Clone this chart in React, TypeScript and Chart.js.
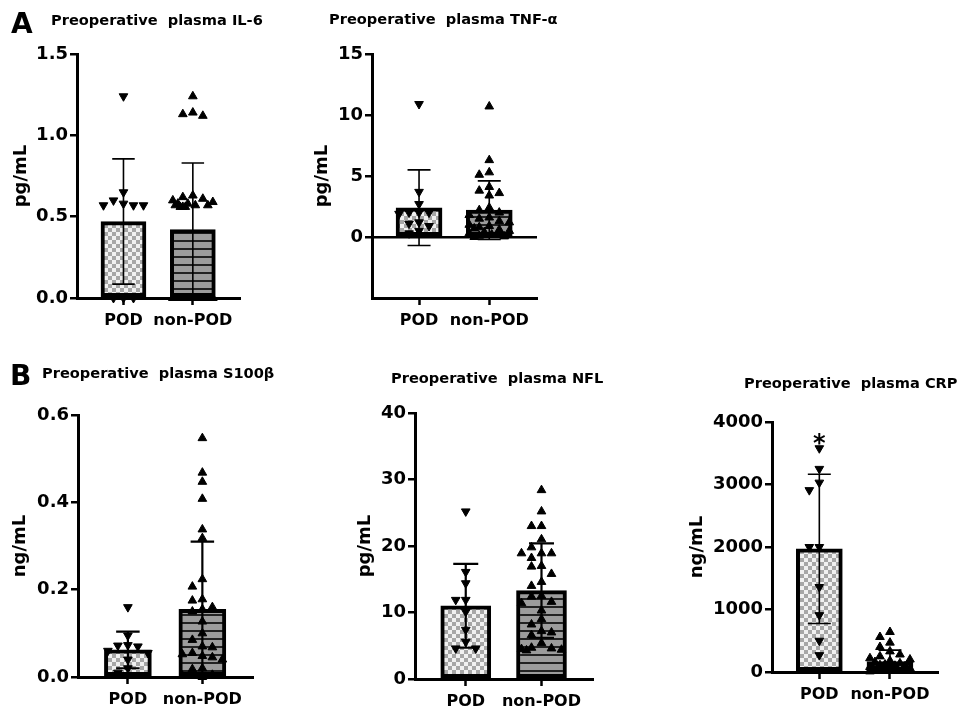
import React, { useEffect, useRef } from 'react';
import Chart from 'chart.js/auto';

const FONT = "'DejaVu Sans', sans-serif";

const categories = ['POD', 'non-POD'];

// ---- A: IL-6 (pg/mL)
const il6Range = [0, 1.5];
const il6Ticks = [0, 0.5, 1.0, 1.5];
const il6TickLabels = ['0.0', '0.5', '1.0', '1.5'];
const il6Mean = [0.47, 0.42];
const il6Sd = [0.385, 0.41];
const il6Pod = [1.24, 0.65, 0.6, 0.58, 0.57, 0.57, 0.57, 0, 0, 0];
const il6NonPod = [1.24, 1.14, 1.13, 1.12, 0.63, 0.62, 0.61, 0.6, 0.59, 0.58, 0.58, 0.57, 0.57, 0.57, 0.56, 0.56, 0.56, 0, 0, 0, 0, 0, 0, 0, 0, 0, 0, 0, 0];

// ---- A: TNF-α (pg/mL)
const tnfRange = [-5, 15];
const tnfTicks = [0, 5, 10, 15];
const tnfTickLabels = ['0', '5', '10', '15'];
const tnfMean = [2.4, 2.2];
const tnfSd = [3.1, 2.4];
const tnfPod = [10.9, 3.7, 2.7, 2.0, 2.0, 2.0, 1.9, 1.2, 1.1, 0.9, 0.5, 0.3];
const tnfNonPod = [10.7, 6.3, 5.3, 5.1, 4.1, 3.8, 3.6, 3.4, 2.4, 2.2, 2.0, 1.8, 1.6, 1.5, 1.3, 1.2, 1.0, 0.9, 0.8, 0.7, 0.6, 0.5, 0.4, 0.3, 0.2, 0.1, 0.05, 0];

// ---- B: S100β (ng/mL)
const s100Range = [0, 0.6];
const s100Ticks = [0, 0.2, 0.4, 0.6];
const s100TickLabels = ['0.0', '0.2', '0.4', '0.6'];
const s100Mean = [0.062, 0.155];
const s100Sd = [0.042, 0.155];
const s100Pod = [0.16, 0.095, 0.073, 0.072, 0.07, 0.06, 0.055, 0.04, 0.02, 0.01];
const s100NonPod = [0.547, 0.468, 0.447, 0.408, 0.338, 0.318, 0.224, 0.207, 0.178, 0.175, 0.16, 0.155, 0.15, 0.127, 0.1, 0.085, 0.07, 0.068, 0.055, 0.052, 0.048, 0.045, 0.04, 0.02, 0.018, 0.005, 0.003, 0];

// ---- B: NFL (pg/mL)
const nflRange = [0, 40];
const nflTicks = [0, 10, 20, 30, 40];
const nflTickLabels = ['0', '10', '20', '30', '40'];
const nflMean = [11.0, 13.3];
const nflSd = [6.3, 7.1];
const nflPod = [25.2, 16.1, 14.4, 11.9, 11.9, 10.1, 7.4, 5.6, 4.6, 4.6];
const nflNonPod = [28.4, 25.2, 23.0, 23.0, 21.0, 19.8, 18.9, 18.9, 18.9, 18.2, 17.0, 16.9, 15.8, 14.6, 14.0, 12.5, 12.4, 11.6, 11.4, 10.3, 9.0, 8.2, 7.2, 7.0, 6.6, 5.4, 4.7, 4.6, 4.5, 4.4, 4.3];

// ---- B: CRP (ng/mL)
const crpRange = [0, 4000];
const crpTicks = [0, 1000, 2000, 3000, 4000];
const crpTickLabels = ['0', '1000', '2000', '3000', '4000'];
const crpMean = [1970, 165];
const crpSd = [1195, 185];
const crpPod = [3580, 3250, 3030, 2910, 2000, 2000, 1360, 910, 500, 270];
const crpNonPod = [640, 560, 470, 400, 330, 280, 250, 220, 200, 180, 160, 140, 120, 110, 100, 90, 80, 75, 70, 65, 60, 55, 50, 45, 40, 35, 30, 25, 20, 10];
const crpSig = ['*', ''];

interface PanelCfg {
  unit: string;
  range: number[];
  ticks: number[];
  tickLabels: string[];
  mean: number[];
  sd: number[];
  pod: number[];
  nonPod: number[];
  sig?: string[];
  left: number;
  top: number;
  width: number;
  height: number;
  yWidth: number;
  xHeight: number;
  padTop: number;
  padRight: number;
  yTitlePad: number;
  barThickness: number;
  errWidth: number;
}

const panels: PanelCfg[] = [
  { unit: 'pg/mL', range: il6Range, ticks: il6Ticks, tickLabels: il6TickLabels, mean: il6Mean, sd: il6Sd, pod: il6Pod, nonPod: il6NonPod,
    left: 0, top: 0, width: 260, height: 343, yWidth: 77, xHeight: 45, padTop: 54, padRight: 20, yTitlePad: 11, barThickness: 45, errWidth: 1.6 },
  { unit: 'pg/mL', range: tnfRange, ticks: tnfTicks, tickLabels: tnfTickLabels, mean: tnfMean, sd: tnfSd, pod: tnfPod, nonPod: tnfNonPod,
    left: 300, top: 0, width: 257, height: 343, yWidth: 72, xHeight: 45, padTop: 54, padRight: 20, yTitlePad: 12, barThickness: 46, errWidth: 1.6 },
  { unit: 'ng/mL', range: s100Range, ticks: s100Ticks, tickLabels: s100TickLabels, mean: s100Mean, sd: s100Sd, pod: s100Pod, nonPod: s100NonPod,
    left: 0, top: 350, width: 273, height: 365, yWidth: 78, xHeight: 38, padTop: 65, padRight: 20, yTitlePad: 10, barThickness: 47, errWidth: 2.2 },
  { unit: 'pg/mL', range: nflRange, ticks: nflTicks, tickLabels: nflTickLabels, mean: nflMean, sd: nflSd, pod: nflPod, nonPod: nflNonPod,
    left: 340, top: 350, width: 273, height: 365, yWidth: 75, xHeight: 36, padTop: 63, padRight: 20, yTitlePad: 15, barThickness: 50, errWidth: 2.2 },
  { unit: 'ng/mL', range: crpRange, ticks: crpTicks, tickLabels: crpTickLabels, mean: crpMean, sd: crpSd, pod: crpPod, nonPod: crpNonPod, sig: crpSig,
    left: 680, top: 350, width: 278, height: 365, yWidth: 92, xHeight: 43, padTop: 72, padRight: 20, yTitlePad: 7, barThickness: 46, errWidth: 1.6 },
];

const titles = [
  { text: 'Preoperative  plasma IL-6', left: 51, top: 12.5 },
  { text: 'Preoperative  plasma TNF-α', left: 329, top: 12 },
  { text: 'Preoperative  plasma S100β', left: 42, top: 366 },
  { text: 'Preoperative  plasma NFL', left: 391, top: 371 },
  { text: 'Preoperative  plasma CRP', left: 744, top: 376 },
];

const letters = [
  { text: 'A', left: 11, top: 9.5 },
  { text: 'B', left: 10, top: 361.5 },
];

function makePatterns() {
  const c1 = document.createElement('canvas');
  c1.width = 8; c1.height = 8;
  const g1 = c1.getContext('2d')!;
  g1.fillStyle = '#f0f0f0'; g1.fillRect(0, 0, 8, 8);
  g1.fillStyle = '#a6a6a6'; g1.fillRect(0, 0, 4, 4); g1.fillRect(4, 4, 4, 4);
  const c2 = document.createElement('canvas');
  c2.width = 8; c2.height = 8;
  const g2 = c2.getContext('2d')!;
  g2.fillStyle = '#9c9c9c'; g2.fillRect(0, 0, 8, 8);
  g2.fillStyle = '#222222'; g2.fillRect(0, 0, 8, 2);
  const tmp = document.createElement('canvas').getContext('2d')!;
  return { checker: tmp.createPattern(c1, 'repeat')!, stripes: tmp.createPattern(c2, 'repeat')! };
}

function swarm(values: number[], catIndex: number, chart: any, half: number) {
  const xs = chart.scales.x, ys = chart.scales.y;
  const cx = xs.getPixelForValue(catIndex + 1);
  const placed: { dx: number; py: number }[] = [];
  const STEP = 10, DY = 8.5;
  const primary = [0, -STEP, STEP, -2 * STEP, 2 * STEP];
  const fine: number[] = [];
  for (let d = -half; d <= half + 0.01; d += 2.5) fine.push(d);
  return values.map((v) => {
    const py = ys.getPixelForValue(v);
    const near = placed.filter((p) => Math.abs(p.py - py) < DY);
    let dx = primary.find((c) => Math.abs(c) <= half && near.every((p) => Math.abs(p.dx - c) >= STEP * 0.95));
    if (dx === undefined) {
      let best = 0, bestD = -1;
      for (const c of fine) {
        const d = Math.min(...near.map((p) => Math.abs(p.dx - c)));
        if (d > bestD + 0.01) { bestD = d; best = c; }
      }
      dx = best;
    }
    placed.push({ dx, py });
    return { x: xs.getValueForPixel(cx + dx), y: v };
  });
}

function Panel({ cfg }: { cfg: PanelCfg }) {
  const ref = useRef<HTMLCanvasElement>(null);
  useEffect(() => {
    const canvas = ref.current!;
    const pats = makePatterns();
    const tickFont = { family: FONT, size: 18, weight: 'bold' as const };
    const errPlugin = {
      id: 'errbars',
      afterDatasetDraw(chart: any, args: any) {
        if (args.index !== 0) return;
        const { ctx } = chart;
        const xs = chart.scales.x, ys = chart.scales.y;
        ctx.save();
        ctx.strokeStyle = '#000';
        ctx.lineWidth = cfg.errWidth;
        const cap = cfg.barThickness / 4;
        cfg.mean.forEach((m, i) => {
          const x = xs.getPixelForValue(i + 1);
          const hi = m + cfg.sd[i];
          const lo = m - cfg.sd[i];
          const yHi = ys.getPixelForValue(hi);
          const yLo = ys.getPixelForValue(Math.max(lo, ys.min));
          ctx.beginPath();
          ctx.moveTo(x, yHi); ctx.lineTo(x, yLo);
          ctx.moveTo(x - cap, yHi); ctx.lineTo(x + cap, yHi);
          if (lo > ys.min) { ctx.moveTo(x - cap, yLo); ctx.lineTo(x + cap, yLo); }
          ctx.stroke();
        });
        ctx.restore();
      },
    };
    const sigPlugin = {
      id: 'sig',
      afterDatasetsDraw(chart: any) {
        if (!cfg.sig) return;
        const { ctx } = chart;
        const xs = chart.scales.x, ys = chart.scales.y;
        ctx.save();
        ctx.fillStyle = '#000';
        ctx.font = `bold 24px ${FONT}`;
        ctx.textAlign = 'center';
        ctx.textBaseline = 'alphabetic';
        cfg.sig.forEach((s, i) => {
          if (!s) return;
          const vals = i === 0 ? cfg.pod : cfg.nonPod;
          const top = ys.getPixelForValue(Math.max(...vals));
          ctx.fillText(s, xs.getPixelForValue(i + 1), top + 3);
        });
        ctx.restore();
      },
    };
    const zeroLine = cfg.range[0] < 0;
    const chart = new Chart(canvas, {
      type: 'bar',
      data: {
        datasets: [
          {
            type: 'bar',
            data: cfg.mean.map((m, i) => ({ x: i + 1, y: m })),
            backgroundColor: [pats.checker, pats.stripes],
            borderColor: '#000',
            borderWidth: 4,
            borderSkipped: false,
            barThickness: cfg.barThickness,
            order: 2,
          } as any,
          {
            type: 'scatter',
            data: cfg.pod.map((v) => ({ x: 1, y: v })),
            pointStyle: 'triangle',
            rotation: 180,
            pointRadius: 5,
            backgroundColor: '#000',
            borderColor: '#000',
            borderWidth: 1,
            clip: false,
            order: 0,
          } as any,
          {
            type: 'scatter',
            data: cfg.nonPod.map((v) => ({ x: 2, y: v })),
            pointStyle: 'triangle',
            pointRadius: 5,
            backgroundColor: '#000',
            borderColor: '#000',
            borderWidth: 1,
            clip: false,
            order: 0,
          } as any,
        ],
      },
      options: {
        responsive: false,
        animation: false,
        devicePixelRatio: 1,
        events: [],
        layout: { padding: { left: 0, top: cfg.padTop, right: cfg.padRight, bottom: 0 } },
        plugins: { legend: { display: false }, tooltip: { enabled: false }, title: { display: false } },
        scales: {
          x: {
            type: 'linear',
            min: 0.33,
            max: 2.68,
            offset: false,
            afterBuildTicks: (s: any) => { s.ticks = categories.map((_, i) => ({ value: i + 1 })); },
            afterFit: (s: any) => { s.height = cfg.xHeight; },
            ticks: {
              autoSkip: false,
              maxRotation: 0,
              color: '#000',
              padding: 6,
              font: { family: FONT, size: 16, weight: 'bold' },
              callback: (v: any) => categories[Math.round(Number(v)) - 1] ?? '',
            },
            grid: { offset: false, drawOnChartArea: false, drawTicks: true, tickLength: 7, tickWidth: 2.5, tickColor: '#000' },
            border: { display: true, color: '#000', width: 3 },
          },
          y: {
            type: 'linear',
            min: cfg.range[0],
            max: cfg.range[1],
            afterBuildTicks: (s: any) => { s.ticks = cfg.ticks.map((v) => ({ value: v })); },
            afterFit: (s: any) => { s.width = cfg.yWidth; },
            ticks: {
              color: '#000',
              padding: 2,
              font: tickFont,
              callback: (v: any) => {
                const k = cfg.ticks.findIndex((t) => Math.abs(t - Number(v)) < 1e-9);
                return k >= 0 ? cfg.tickLabels[k] : '';
              },
            },
            grid: {
              offset: false,
              drawOnChartArea: zeroLine,
              drawTicks: true,
              tickLength: 7,
              tickWidth: 2.5,
              tickColor: '#000',
              lineWidth: 2.5,
              color: (c: any) => (c.tick && c.tick.value === 0 ? '#000' : 'rgba(0,0,0,0)'),
            },
            border: { display: true, color: '#000', width: 3 },
            title: {
              display: true,
              text: cfg.unit,
              color: '#000',
              font: { family: FONT, size: 18, weight: 'bold' },
              padding: { top: cfg.yTitlePad, bottom: 0 },
            },
          },
        },
      } as any,
      plugins: [errPlugin, sigPlugin],
    });
    chart.data.datasets[1].data = swarm(cfg.pod, 0, chart, 20) as any;
    chart.data.datasets[2].data = swarm(cfg.nonPod, 1, chart, 20) as any;
    chart.update();
    return () => chart.destroy();
  }, [cfg]);
  return (
    <canvas
      ref={ref}
      width={cfg.width}
      height={cfg.height}
      style={{ position: 'absolute', left: cfg.left, top: cfg.top, width: cfg.width, height: cfg.height }}
    />
  );
}

export default function App() {
  return (
    <div style={{ position: 'absolute', left: 0, top: 0, width: 967, height: 715, background: '#fff', overflow: 'hidden' }}>
      {panels.map((p, i) => (
        <Panel key={i} cfg={p} />
      ))}
      {titles.map((t, i) => (
        <div
          key={'t' + i}
          style={{ position: 'absolute', left: t.left, top: t.top, fontFamily: FONT, fontWeight: 'bold', fontSize: 14.6, lineHeight: '14.6px', whiteSpace: 'pre', color: '#000' }}
        >
          {t.text}
        </div>
      ))}
      {letters.map((t, i) => (
        <div
          key={'l' + i}
          style={{ position: 'absolute', left: t.left, top: t.top, fontFamily: FONT, fontWeight: 'bold', fontSize: 28, lineHeight: '28px', color: '#000' }}
        >
          {t.text}
        </div>
      ))}
    </div>
  );
}
